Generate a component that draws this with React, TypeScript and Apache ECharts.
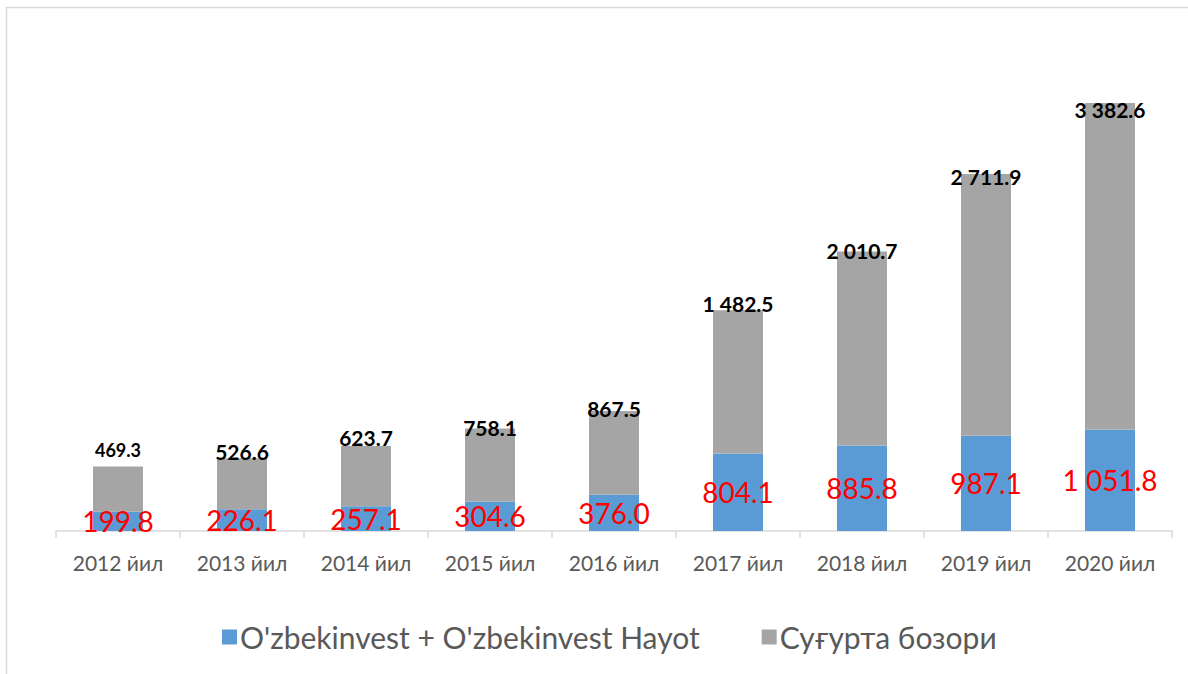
import React, { useEffect, useRef } from "react";
import * as echarts from "echarts";

const categories = ["2012 йил", "2013 йил", "2014 йил", "2015 йил", "2016 йил", "2017 йил", "2018 йил", "2019 йил", "2020 йил"];
const companyValues = [199.8, 226.1, 257.1, 304.6, 376.0, 804.1, 885.8, 987.1, 1051.8];
const marketValues = [469.3, 526.6, 623.7, 758.1, 867.5, 1482.5, 2010.7, 2711.9, 3382.6];
const seriesNames = ["O'zbekinvest + O'zbekinvest Hayot", "Суғурта бозори"];
// vertical nudge of each total label's centre relative to its bar top (px)
const marketLabelNudge = [-16, -7, -8, -1, -2, -7, -1, 3, 7];
// font size of each total label (the first one is smaller in the original)
const marketLabelSize = [18, 21, 21, 21, 21, 21, 21, 21, 21];

const fmt = (v: number) => {
  const s = v.toFixed(1);
  const [i, d] = s.split(".");
  return i.replace(/\B(?=(\d{3})+(?!\d))/g, " ") + "." + d;
};

const FONT = "Lato, 'Noto Sans', sans-serif";

export default function App() {
  const ref = useRef<HTMLDivElement>(null);
  useEffect(() => {
    if (!ref.current) return;
    const chart = echarts.init(ref.current, null, { renderer: "svg" });
    chart.setOption({
      animation: false,
      backgroundColor: "#ffffff",
      textStyle: { fontFamily: FONT },
      graphic: [
        {
          type: "rect",
          shape: { x: 6.5, y: 7.5, width: 1300, height: 800 },
          style: { fill: "none", stroke: "#d9d9d9", lineWidth: 1.5 },
          silent: true,
        },
      ],
      grid: { left: 56, right: 16, top: 48.4, bottom: 143, containLabel: false },
      legend: {
        top: 617,
        left: 217,
        icon: "rect",
        itemWidth: 15,
        itemHeight: 15,
        itemGap: 62,
        textStyle: { fontSize: 30, color: "#595959", fontFamily: FONT, padding: [0, 0, 0, -2] },
        data: seriesNames,
      },
      xAxis: {
        type: "category",
        data: categories,
        axisLine: { lineStyle: { color: "#d9d9d9", width: 1.5 } },
        axisTick: { show: true, length: 7, lineStyle: { color: "#d9d9d9", width: 1.5 } },
        axisLabel: { color: "#595959", fontSize: 21, margin: 21, fontFamily: FONT },
      },
      yAxis: { type: "value", min: 0, max: 5000, show: false, splitLine: { show: false } },
      series: [
        {
          name: seriesNames[0],
          type: "bar",
          stack: "a",
          barWidth: 50,
          itemStyle: { color: "#5b9bd5" },
          data: companyValues,
          label: {
            show: true,
            position: "inside",
            color: "#ff0000",
            fontSize: 28,
            fontFamily: FONT,
            formatter: (p: any) => fmt(p.value),
          },
        },
        {
          name: seriesNames[1],
          type: "bar",
          stack: "a",
          barWidth: 50,
          itemStyle: { color: "#a5a5a5" },
          data: marketValues.map((v, i) => ({
            value: v,
            label: {
              fontSize: marketLabelSize[i],
              lineHeight: marketLabelSize[i],
              offset: [0, marketLabelNudge[i] + marketLabelSize[i] / 2],
            },
          })),
          label: {
            show: true,
            position: "top",
            distance: 0,
            color: "#000000",
            fontWeight: "bold",
            fontFamily: FONT,
            formatter: (p: any) => fmt(p.value),
          },
        },
      ],
    });
    return () => chart.dispose();
  }, []);
  return (
    <div
      ref={ref}
      style={{ position: "fixed", left: 0, top: 0, width: 1188, height: 674 }}
    />
  );
}
